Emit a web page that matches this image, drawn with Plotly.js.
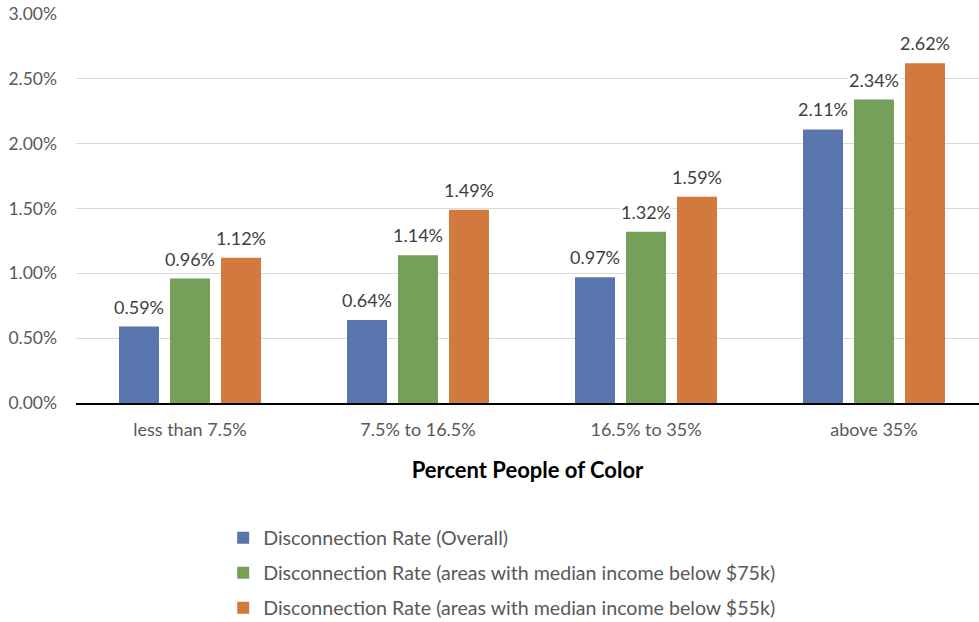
<!DOCTYPE html>
<html>
<head>
<meta charset="utf-8">
<script src="https://cdn.plot.ly/plotly-3.0.1.min.js"></script>
<style>
  html, body { margin: 0; padding: 0; background: #fff; overflow: hidden; }
  #chart { width: 979px; height: 622px; }
</style>
</head>
<body>
<div id="chart"></div>
<script>
// Share of people of color in the area (x categories)
const categories = ['less than 7.5%', '7.5% to 16.5%', '16.5% to 35%', 'above 35%'];

// Disconnection rates, as fractions
const overall = [0.0059, 0.0064, 0.0097, 0.0211];
const below75k = [0.0096, 0.0114, 0.0132, 0.0234];
const below55k = [0.0112, 0.0149, 0.0159, 0.0262];

const seriesNames = [
  'Disconnection Rate (Overall)',
  'Disconnection Rate (areas with median income below $75k)',
  'Disconnection Rate (areas with median income below $55k)'
];
const seriesValues = [overall, below75k, below55k];
const seriesColors = ['#5875AE', '#74A05A', '#D27A3D'];

const FONT = 'Lato, "Open Sans", "DejaVu Sans", sans-serif';

const W = 979, H = 622;
const margin = { l: 76, r: 0, t: 14, b: 219, autoexpand: false };
const plotW = W - margin.l - margin.r;
const plotH = H - margin.t - margin.b;
const catPx = 228;                       // width of one category slot
const xMax = -0.5 + plotW / catPx;       // right edge cut just past the last group
const bargap = 0.329, bargroupgap = 0.216;
const slotPx = (1 - bargap) * catPx / seriesValues.length;

// one legend box per series, stacked under the axis title
const legendIds = ['legend', 'legend2', 'legend3'];
const legendFirstPx = 135, legendStepPx = 35;   // below the plot's bottom edge

const traces = seriesValues.map((vals, i) => ({
  type: 'bar',
  name: seriesNames[i],
  x: categories,
  y: vals,
  marker: { color: seriesColors[i] },
  legend: legendIds[i],
  hoverinfo: 'skip'
}));

// Value labels sit above each bar on a white backing
const annotations = [];
seriesValues.forEach((vals, i) => {
  vals.forEach((v, j) => {
    annotations.push({
      x: categories[j], y: v, xref: 'x', yref: 'y',
      xshift: (i - (seriesValues.length - 1) / 2) * slotPx,
      yshift: 7,
      yanchor: 'bottom',
      text: (v * 100).toFixed(2) + '%',
      showarrow: false,
      bgcolor: '#ffffff',
      borderpad: 1,
      font: { family: FONT, size: 18, color: '#404040' }
    });
  });
});

const layout = {
  width: W, height: H,
  margin: margin,
  paper_bgcolor: '#ffffff',
  plot_bgcolor: '#ffffff',
  font: { family: FONT, size: 18, color: '#595959' },
  barmode: 'group',
  bargap: bargap,
  bargroupgap: bargroupgap,
  xaxis: {
    type: 'category',
    range: [-0.5, xMax],
    showline: true, linecolor: '#000000', linewidth: 1.5,
    showgrid: false, zeroline: false,
    ticks: '',
    ticklabelstandoff: 10,
    tickfont: { family: FONT, size: 18, color: '#595959' },
    title: {
      text: 'Percent People of Color',
      font: { family: FONT, size: 22, color: '#000000', weight: 'bold' },
      standoff: 23
    }
  },
  yaxis: {
    range: [0, 0.03],
    tickvals: [0, 0.005, 0.01, 0.015, 0.02, 0.025, 0.03],
    tickformat: '.2%',
    showgrid: true, gridcolor: '#d9d9d9', gridwidth: 1,
    zeroline: false, showline: false,
    ticks: '',
    ticklabelstandoff: 18,
    tickfont: { family: FONT, size: 17.5, color: '#595959' }
  },
  showlegend: true,
  annotations: annotations
};

legendIds.forEach((id, i) => {
  layout[id] = {
    orientation: 'v',
    x: 0.163, xanchor: 'left',
    y: -(legendFirstPx + i * legendStepPx) / plotH, yanchor: 'middle',
    font: { family: FONT, size: 19.6, color: '#595959' },
    itemwidth: 30,
    bgcolor: 'rgba(0,0,0,0)'
  };
});

Plotly.newPlot('chart', traces, layout, { displayModeBar: false, staticPlot: true });
</script>
</body>
</html>
